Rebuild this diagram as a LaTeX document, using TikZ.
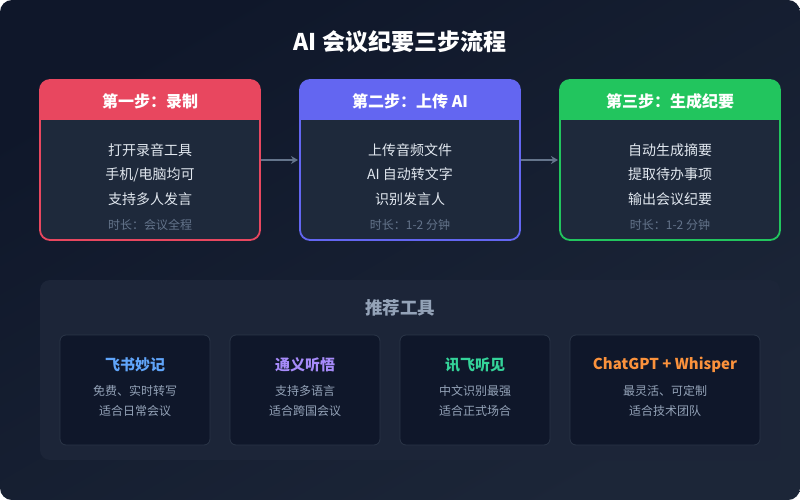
\documentclass[tikz,border=0pt]{standalone}
\usepackage{fontspec}
\setmainfont{Noto Sans CJK SC}
\usetikzlibrary{arrows.meta,positioning}
\definecolor{bgA}{HTML}{0F172A}
\definecolor{bgB}{HTML}{1C2638}
\definecolor{bodyfill}{HTML}{1E293B}
\definecolor{cred}{HTML}{E8475F}
\definecolor{cblue}{HTML}{6366F1}
\definecolor{cgreen}{HTML}{22C55E}
\definecolor{txt}{HTML}{E2E8F0}
\definecolor{dur}{HTML}{64748B}
\definecolor{arrowc}{HTML}{64748B}
\definecolor{panel}{HTML}{1C2538}
\definecolor{cardfill}{HTML}{0F172A}
\definecolor{cardline}{HTML}{2B3648}
\definecolor{subtxt}{HTML}{94A3B8}
\definecolor{tblue}{HTML}{60A5FA}
\definecolor{tpurple}{HTML}{A78BFA}
\definecolor{tgreen}{HTML}{34D399}
\definecolor{torange}{HTML}{FB923C}
\tikzset{
  bodytext/.style={text=txt,font=\fontsize{14}{24.5}\selectfont,align=center},
  durtext/.style={text=dur,font=\fontsize{12}{14}\selectfont},
  headtext/.style={text=white,font=\bfseries\fontsize{16}{18}\selectfont},
  flowarrow/.style={draw=arrowc,line width=1.4pt,-{Stealth[length=7pt,width=8pt]}},
  cardbox/.style={draw=cardline,fill=cardfill,line width=0.8pt,rounded corners=6pt,minimum width=150pt,minimum height=110pt},
  cardtitle/.style={font=\bfseries\fontsize{15}{18}\selectfont},
  cardsub/.style={text=subtxt,font=\fontsize{12}{20}\selectfont,align=center}
}
\begin{document}
\begin{tikzpicture}[x=1pt,y=-1pt]
\useasboundingbox (0,0) rectangle (800,500);
\fill[white] (0,0) rectangle (800,500);
\shade[rounded corners=12pt,top color=bgA,bottom color=bgB,shading angle=30] (0,0) rectangle (800,500);
\node[text=white,font=\bfseries\fontsize{23}{26}\selectfont] (title) at (400,42) {AI 会议纪要三步流程};
% step boxes
\foreach \n/\x/\c/\h/\a/\b/\d/\e in {
  s1/40/cred/{第一步：录制}/{打开录音工具}/{手机/电脑均可}/{支持多人发言}/{时长：会议全程},
  s2/300/cblue/{第二步：上传 AI}/{上传音频文件}/{AI 自动转文字}/{识别发言人}/{时长：1-2 分钟},
  s3/560/cgreen/{第三步：生成纪要}/{自动生成摘要}/{提取待办事项}/{输出会议纪要}/{时长：1-2 分钟}}{
  \fill[bodyfill,rounded corners=10pt] (\x,80) rectangle ++(220,160);
  \fill[\c,rounded corners=10pt] (\x,80) rectangle ++(220,40);
  \fill[\c] (\x,105) rectangle ++(220,15);
  \draw[\c,line width=1.8pt,rounded corners=10pt] (\x,80) rectangle ++(220,160);
  \node[headtext] (\n h) at (\x+110,101) {\h};
  \node[bodytext] (\n b) at (\x+110,174.5) {\a\\\b\\\d};
  \node[durtext] (\n d) at (\x+110,225) {\e};
  \coordinate (\n L) at (\x,160);
  \coordinate (\n R) at (\x+220,160);
}
\draw[flowarrow] ([xshift=1pt]s1R) -- ([xshift=-2pt]s2L);
\draw[flowarrow] ([xshift=1pt]s2R) -- ([xshift=-2pt]s3L);
% panel
\fill[panel,rounded corners=10pt] (40,280) rectangle (780,460);
\node[text=subtxt,font=\bfseries\fontsize{17.5}{20}\selectfont] (ptitle) at (400,308) {推荐工具};
\node[cardbox] (c1) at (135,390) {};
\node[cardbox] (c2) at (305,390) {};
\node[cardbox] (c3) at (475,390) {};
\node[cardbox,minimum width=190pt] (c4) at (665,390) {};
\node[cardtitle,text=tblue] (c1t) at (135,365) {飞书妙记};
\node[cardtitle,text=tpurple] (c2t) at (305,365) {通义听悟};
\node[cardtitle,text=tgreen] (c3t) at (475,365) {讯飞听见};
\node[cardtitle,text=torange] (c4t) at (665,365) {ChatGPT + Whisper};
\node[cardsub] (c1s) at (135,401) {免费、实时转写\\适合日常会议};
\node[cardsub] (c2s) at (305,401) {支持多语言\\适合跨国会议};
\node[cardsub] (c3s) at (475,401) {中文识别最强\\适合正式场合};
\node[cardsub] (c4s) at (665,401) {最灵活、可定制\\适合技术团队};
\end{tikzpicture}
\end{document}
